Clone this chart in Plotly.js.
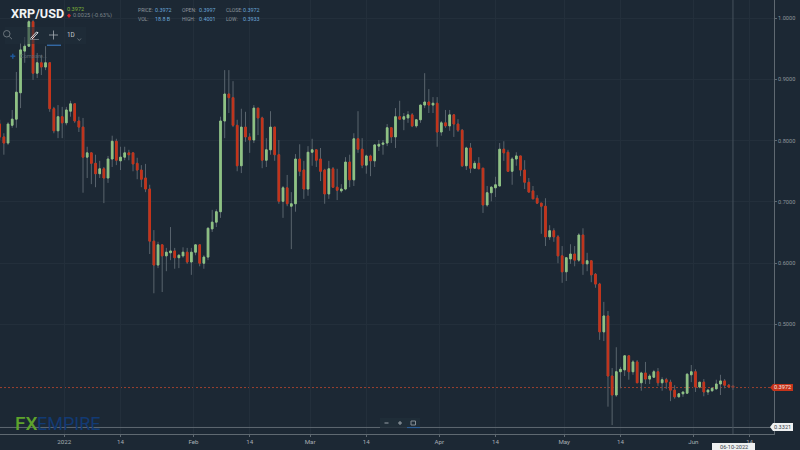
<!DOCTYPE html>
<html>
<head>
<meta charset="utf-8">
<script src="https://cdn.plot.ly/plotly-3.0.1.min.js"></script>
<style>html,body{margin:0;padding:0;background:#1c2834;overflow:hidden}#chart{width:800px;height:450px}</style>
</head>
<body>
<div id="chart"></div>
<script>
const dates = [
"2021-12-16","2021-12-17","2021-12-18","2021-12-19","2021-12-20","2021-12-21","2021-12-22","2021-12-23","2021-12-24","2021-12-25",
"2021-12-26","2021-12-27","2021-12-28","2021-12-29","2021-12-30","2021-12-31","2022-01-01","2022-01-02","2022-01-03","2022-01-04",
"2022-01-05","2022-01-06","2022-01-07","2022-01-08","2022-01-09","2022-01-10","2022-01-11","2022-01-12","2022-01-13","2022-01-14",
"2022-01-15","2022-01-16","2022-01-17","2022-01-18","2022-01-19","2022-01-20","2022-01-21","2022-01-22","2022-01-23","2022-01-24",
"2022-01-25","2022-01-26","2022-01-27","2022-01-28","2022-01-29","2022-01-30","2022-01-31","2022-02-01","2022-02-02","2022-02-03",
"2022-02-04","2022-02-05","2022-02-06","2022-02-07","2022-02-08","2022-02-09","2022-02-10","2022-02-11","2022-02-12","2022-02-13",
"2022-02-14","2022-02-15","2022-02-16","2022-02-17","2022-02-18","2022-02-19","2022-02-20","2022-02-21","2022-02-22","2022-02-23",
"2022-02-24","2022-02-25","2022-02-26","2022-02-27","2022-02-28","2022-03-01","2022-03-02","2022-03-03","2022-03-04","2022-03-05",
"2022-03-06","2022-03-07","2022-03-08","2022-03-09","2022-03-10","2022-03-11","2022-03-12","2022-03-13","2022-03-14","2022-03-15",
"2022-03-16","2022-03-17","2022-03-18","2022-03-19","2022-03-20","2022-03-21","2022-03-22","2022-03-23","2022-03-24","2022-03-25",
"2022-03-26","2022-03-27","2022-03-28","2022-03-29","2022-03-30","2022-03-31","2022-04-01","2022-04-02","2022-04-03","2022-04-04",
"2022-04-05","2022-04-06","2022-04-07","2022-04-08","2022-04-09","2022-04-10","2022-04-11","2022-04-12","2022-04-13","2022-04-14",
"2022-04-15","2022-04-16","2022-04-17","2022-04-18","2022-04-19","2022-04-20","2022-04-21","2022-04-22","2022-04-23","2022-04-24",
"2022-04-25","2022-04-26","2022-04-27","2022-04-28","2022-04-29","2022-04-30","2022-05-01","2022-05-02","2022-05-03","2022-05-04",
"2022-05-05","2022-05-06","2022-05-07","2022-05-08","2022-05-09","2022-05-10","2022-05-11","2022-05-12","2022-05-13","2022-05-14",
"2022-05-15","2022-05-16","2022-05-17","2022-05-18","2022-05-19","2022-05-20","2022-05-21","2022-05-22","2022-05-23","2022-05-24",
"2022-05-25","2022-05-26","2022-05-27","2022-05-28","2022-05-29","2022-05-30","2022-05-31","2022-06-01","2022-06-02","2022-06-03",
"2022-06-04","2022-06-05","2022-06-06","2022-06-07","2022-06-08","2022-06-09","2022-06-10"];
const open = [
.827,.806,.796,.825,.835,.878,.946,.954,.994,.910,
.927,.920,.927,.852,.816,.839,.829,.848,.860,.832,
.822,.773,.780,.763,.746,.754,.739,.770,.799,.767,
.773,.780,.780,.763,.752,.739,.721,.636,.597,.630,
.612,.617,.620,.609,.612,.618,.602,.618,.630,.600,
.610,.656,.667,.684,.832,.876,.870,.825,.759,.822,
.806,.801,.853,.837,.768,.785,.822,.777,.701,.723,
.693,.697,.770,.752,.721,.781,.785,.770,.752,.713,
.754,.724,.718,.721,.765,.736,.803,.786,.760,.775,
.767,.791,.794,.796,.821,.806,.839,.835,.837,.842,
.824,.834,.858,.863,.858,.861,.814,.829,.824,.842,
.827,.817,.759,.788,.755,.763,.755,.695,.715,.723,
.726,.786,.781,.750,.770,.775,.752,.732,.718,.706,
.698,.693,.643,.653,.643,.612,.586,.607,.615,.605,
.646,.599,.604,.582,.566,.488,.514,.416,.385,.423,
.426,.449,.423,.439,.405,.421,.411,.414,.423,.405,
.410,.406,.393,.382,.387,.388,.418,.423,.398,.406,
.390,.392,.395,.403,.408,.401,.3997];
const high = [
.834,.812,.830,.850,.912,.959,.969,.997,.997,.943,
.940,.954,.927,.855,.858,.855,.855,.865,.861,.839,
.837,.790,.781,.777,.767,.757,.775,.808,.803,.790,
.790,.785,.780,.772,.760,.762,.728,.654,.635,.630,
.625,.659,.625,.615,.626,.625,.625,.631,.631,.613,
.659,.687,.688,.839,.915,.915,.897,.834,.852,.847,
.812,.858,.853,.839,.804,.848,.822,.801,.726,.744,
.716,.778,.794,.767,.791,.803,.785,.788,.754,.767,
.757,.754,.729,.773,.777,.812,.848,.804,.777,.777,
.794,.801,.801,.827,.822,.853,.865,.845,.848,.845,
.835,.858,.910,.884,.871,.871,.832,.850,.850,.843,
.835,.819,.790,.796,.767,.773,.755,.726,.726,.741,
.796,.799,.785,.773,.781,.775,.768,.739,.726,.711,
.698,.706,.662,.657,.646,.628,.610,.631,.628,.649,
.657,.617,.605,.584,.568,.537,.522,.429,.463,.431,
.450,.449,.442,.442,.423,.439,.419,.426,.429,.414,
.413,.410,.401,.388,.390,.421,.434,.427,.406,.411,
.395,.398,.410,.418,.411,.403,.4001];
const low = [
.801,.777,.793,.821,.821,.853,.927,.953,.899,.902,
.907,.915,.847,.812,.804,.804,.825,.839,.829,.814,
.715,.739,.729,.724,.739,.698,.731,.757,.760,.752,
.768,.768,.750,.737,.724,.716,.615,.551,.592,.553,
.587,.605,.591,.592,.609,.599,.581,.613,.595,.591,
.605,.651,.659,.674,.804,.845,.822,.750,.747,.798,
.780,.796,.809,.755,.757,.777,.767,.697,.674,.693,
.623,.684,.742,.705,.710,.759,.757,.734,.697,.705,
.723,.703,.715,.719,.724,.726,.780,.755,.746,.742,
.757,.783,.777,.791,.796,.788,.835,.817,.829,.822,
.821,.829,.853,.845,.845,.790,.808,.821,.816,.806,
.814,.757,.752,.747,.754,.754,.682,.692,.701,.708,
.726,.767,.749,.728,.759,.742,.721,.716,.705,.697,
.648,.628,.638,.635,.600,.568,.571,.599,.595,.602,
.581,.587,.569,.560,.475,.473,.366,.336,.382,.396,
.416,.410,.418,.405,.392,.403,.403,.413,.400,.392,
.395,.375,.379,.382,.382,.388,.406,.390,.396,.383,
.385,.390,.395,.385,.396,.398,.3933];
const close = [
.806,.796,.827,.835,.879,.948,.954,.994,.910,.927,
.920,.927,.852,.816,.839,.829,.850,.860,.832,.822,
.773,.780,.763,.746,.754,.739,.770,.799,.768,.773,
.780,.777,.762,.752,.737,.721,.636,.597,.630,.612,
.618,.620,.609,.613,.618,.602,.618,.630,.600,.610,
.657,.667,.684,.832,.876,.870,.825,.759,.822,.806,
.801,.853,.837,.768,.785,.822,.777,.701,.723,.697,
.697,.770,.750,.721,.781,.785,.768,.750,.713,.754,
.724,.719,.721,.765,.736,.803,.786,.760,.775,.767,
.793,.794,.796,.821,.806,.839,.835,.839,.842,.824,
.834,.858,.863,.858,.861,.814,.829,.824,.842,.827,
.817,.759,.788,.755,.763,.754,.695,.715,.724,.728,
.786,.780,.750,.770,.775,.752,.732,.716,.705,.698,
.693,.643,.653,.643,.612,.586,.609,.615,.605,.646,
.599,.604,.581,.566,.488,.514,.416,.385,.423,.427,
.449,.423,.439,.405,.421,.411,.416,.423,.405,.410,
.406,.393,.382,.387,.390,.419,.423,.398,.406,.390,
.393,.396,.403,.408,.401,.398,.3972];
const xTickVals = ["2022-01-01","2022-01-14 12:00","2022-02-01","2022-02-14 12:00","2022-03-01","2022-03-14 12:00","2022-04-01","2022-04-14 12:00","2022-05-01","2022-05-14 12:00","2022-06-01","2022-06-14 12:00"];
const xTickText = ["2022","14","Feb","14","Mar","14","Apr","14","May","14","Jun","14"];
const yTickVals = [0.5,0.6,0.7,0.8,0.9,1.0];
const yTickText = ["0.5000","0.6000","0.7000","0.8000","0.9000","1.0000"];
const lastPrice = 0.3972, lowPrice = 0.3321, cursorDate = "2022-06-10 12:00";

const W=800,H=450,PW=774,PH=434;
const px=x=>x/PW, py=y=>(PH-y)/PH;
const BG='#1c2834', GREEN='#8fc384', RED='#c5331a', WICK='#59646d';
const times = dates.map(d=>d+' 12:00');
const bodyTop = open.map((o,i)=>Math.max(o,close[i]));
const bodyBot = open.map((o,i)=>Math.min(o,close[i]));

const wicks={type:'candlestick',x:times,open:open,high:high,low:low,close:close,hoverinfo:'skip',showlegend:false,
  increasing:{line:{color:WICK,width:1},fillcolor:WICK},decreasing:{line:{color:WICK,width:1},fillcolor:WICK}};
const bodies={type:'candlestick',x:times,open:open,high:bodyTop,low:bodyBot,close:close,hoverinfo:'skip',showlegend:false,
  increasing:{line:{color:GREEN,width:1},fillcolor:GREEN},decreasing:{line:{color:RED,width:1},fillcolor:RED}};

const F='Roboto, sans-serif';
function note(text,x,y,size,color,anchor,extra){
  return Object.assign({text:text,xref:'paper',yref:'paper',x:px(x),y:py(y),xanchor:anchor||'left',yanchor:'middle',showarrow:false,
    font:{family:F,size:size,color:color},borderpad:0,borderwidth:0},extra||{});
}
function rect(x0,y0,x1,y1,fill,line){return {type:'rect',xref:'paper',yref:'paper',x0:px(x0),y0:py(y0),x1:px(x1),y1:py(y1),fillcolor:fill,line:{width:line?1:0,color:line||fill},layer:'above'};}
function seg(x0,y0,x1,y1,c,w){return {type:'line',xref:'paper',yref:'paper',x0:px(x0),y0:py(y0),x1:px(x1),y1:py(y1),line:{color:c,width:w||1},layer:'above'};}
function poly(pts,fill){return {type:'path',xref:'paper',yref:'paper',path:'M'+pts.map(p=>px(p[0])+','+py(p[1])).join('L')+'Z',fillcolor:fill,line:{width:0},layer:'above'};}

const LBL='#8d959c', BLUE='#6aa6d8';
const annotations=[
  note('XRP/USD',10.5,13,12.6,'#f2f4f5','left',{font:{family:F,size:12.6,color:'#f2f4f5',weight:700}}),
  note('0.3972',67,8.7,5.6,'#7fb23a'),
  note('0.0025 (-0.63%)',73,15.5,5.6,'#7b848b'),
  note('PRICE:',138,9.7,5,LBL), note('0.3972',155,9.7,5.4,BLUE),
  note('OPEN:',182,9.7,5,LBL), note('0.3997',199,9.7,5.4,BLUE),
  note('CLOSE:',226,9.7,5,LBL), note('0.3972',243,9.7,5.4,BLUE),
  note('VOL:',138,18.7,5,LBL), note('18.8 B',155,18.7,5.4,BLUE),
  note('HIGH:',182,18.7,5,LBL), note('0.4001',199,18.7,5.4,BLUE),
  note('LOW:',226,18.7,5,LBL), note('0.3933',243,18.7,5.4,BLUE),
  note('1D',67.3,34.7,6.4,'#c3c8cc'),
  note('Compare...',20,56.5,5.6,'#5a6670'),
  note('FX',15,423,19,'#5ea32c','left',{font:{family:F,size:19,color:'#5ea32c',weight:500}}),
  note('EMPIRE',37,423,18,'#123a74'),
  note('0.3972',782.5,387.2,5.6,'#f4e6e2','center'),
  note('0.3321',782.5,427,5.6,'#39424a','center'),
  note('06-10-2022',733.5,447,5.6,'#39424a','center')
];
const shapes=[
  {type:'line',xref:'paper',yref:'y',x0:0,x1:1,y0:lastPrice,y1:lastPrice,line:{color:'#9c4030',width:1,dash:'2px,2px'},layer:'below'},
  {type:'line',xref:'paper',yref:'y',x0:0,x1:1,y0:lowPrice,y1:lowPrice,line:{color:'#5f6971',width:1},layer:'above'},
  {type:'line',xref:'x',yref:'paper',x0:cursorDate,x1:cursorDate,y0:0,y1:1,line:{color:'#46525c',width:1},layer:'above'},
  rect(5,27,86,44,'rgba(33,46,58,0.55)'),
  {type:'circle',xref:'paper',yref:'paper',x0:px(3.5),y0:py(30.5),x1:px(10),y1:py(37),line:{color:'#7d868d',width:0.8},layer:'above'},
  seg(9.3,36.5,12,39.2,'#7d868d',0.8),
  seg(30.5,38.5,36.5,32,'#dfe3e6',1), seg(32,39,38,32.7,'#dfe3e6',1), seg(36.5,32,38,32.7,'#dfe3e6',1), seg(30,39.5,39,39.5,'#8b949b',0.7),
  seg(49,35,58,35,'#a5acb2',0.8), seg(53.5,30.5,53.5,39.5,'#a5acb2',0.8),
  seg(47,45.2,61,45.2,'#3f86d6',1),
  seg(77.5,38.5,79.3,40.5,'#7d868d',0.7), seg(79.3,40.5,81,38.5,'#7d868d',0.7),
  seg(10.3,56.2,15.3,56.2,'#1f5a9e',1.4), seg(12.8,53.7,12.8,58.8,'#1f5a9e',1.4),
  rect(380,418,420,428,'rgba(33,46,58,0.8)'),
  seg(384.5,423,388.5,423,'#98a0a7',1),
  seg(398,423,402,423,'#98a0a7',1), seg(400,421,400,425,'#98a0a7',1),
  rect(411,421,415.5,425,'rgba(0,0,0,0)','#858e95'),
  seg(407,427.6,420,427.6,'#2f6fb8',0.8),
  poly([[770,387.5],[773,384],[793,384],[793,391],[773,391]],'#c5331a'),
  poly([[770,427],[773,423],[793,423],[793,431],[773,431]],'#eef0f1'),
  rect(712,443,755,450,'#eef0f1'),
  poly([[67,15.5],[69,13.5],[71,15.5],[69,18]],'#d3232a')
];

const layout={
  width:W,height:H,paper_bgcolor:BG,plot_bgcolor:BG,showlegend:false,
  margin:{l:0,r:W-PW,t:0,b:H-PH,pad:0},
  boxmode:'overlay',boxgap:0.45,
  font:{family:F,size:6,color:'#8d959c'},
  xaxis:{type:'date',range:['2021-12-16 13:41','2022-06-20 08:24'],rangeslider:{visible:false},tickmode:'array',tickvals:xTickVals,ticktext:xTickText,
    showgrid:true,gridcolor:'#232f3b',gridwidth:1,zeroline:false,showline:true,linecolor:'#5f6971',linewidth:1,
    ticks:'outside',ticklen:2,tickcolor:'#5f6971',tickwidth:1,tickfont:{family:F,size:6.2,color:'#a6adb3'},tickangle:0,fixedrange:true},
  yaxis:{type:'linear',side:'right',range:[0.32144,1.02936],tickmode:'array',tickvals:yTickVals,ticktext:yTickText,
    showgrid:true,gridcolor:'#232f3b',gridwidth:1,zeroline:false,showline:true,linecolor:'#5f6971',linewidth:1,
    ticks:'outside',ticklen:2,tickcolor:'#5f6971',tickwidth:1,tickfont:{family:F,size:5.6,color:'#8d959c'},fixedrange:true},
  shapes:shapes,annotations:annotations
};
Plotly.newPlot('chart',[wicks,bodies],layout,{displayModeBar:false,staticPlot:true});
</script>
</body>
</html>
